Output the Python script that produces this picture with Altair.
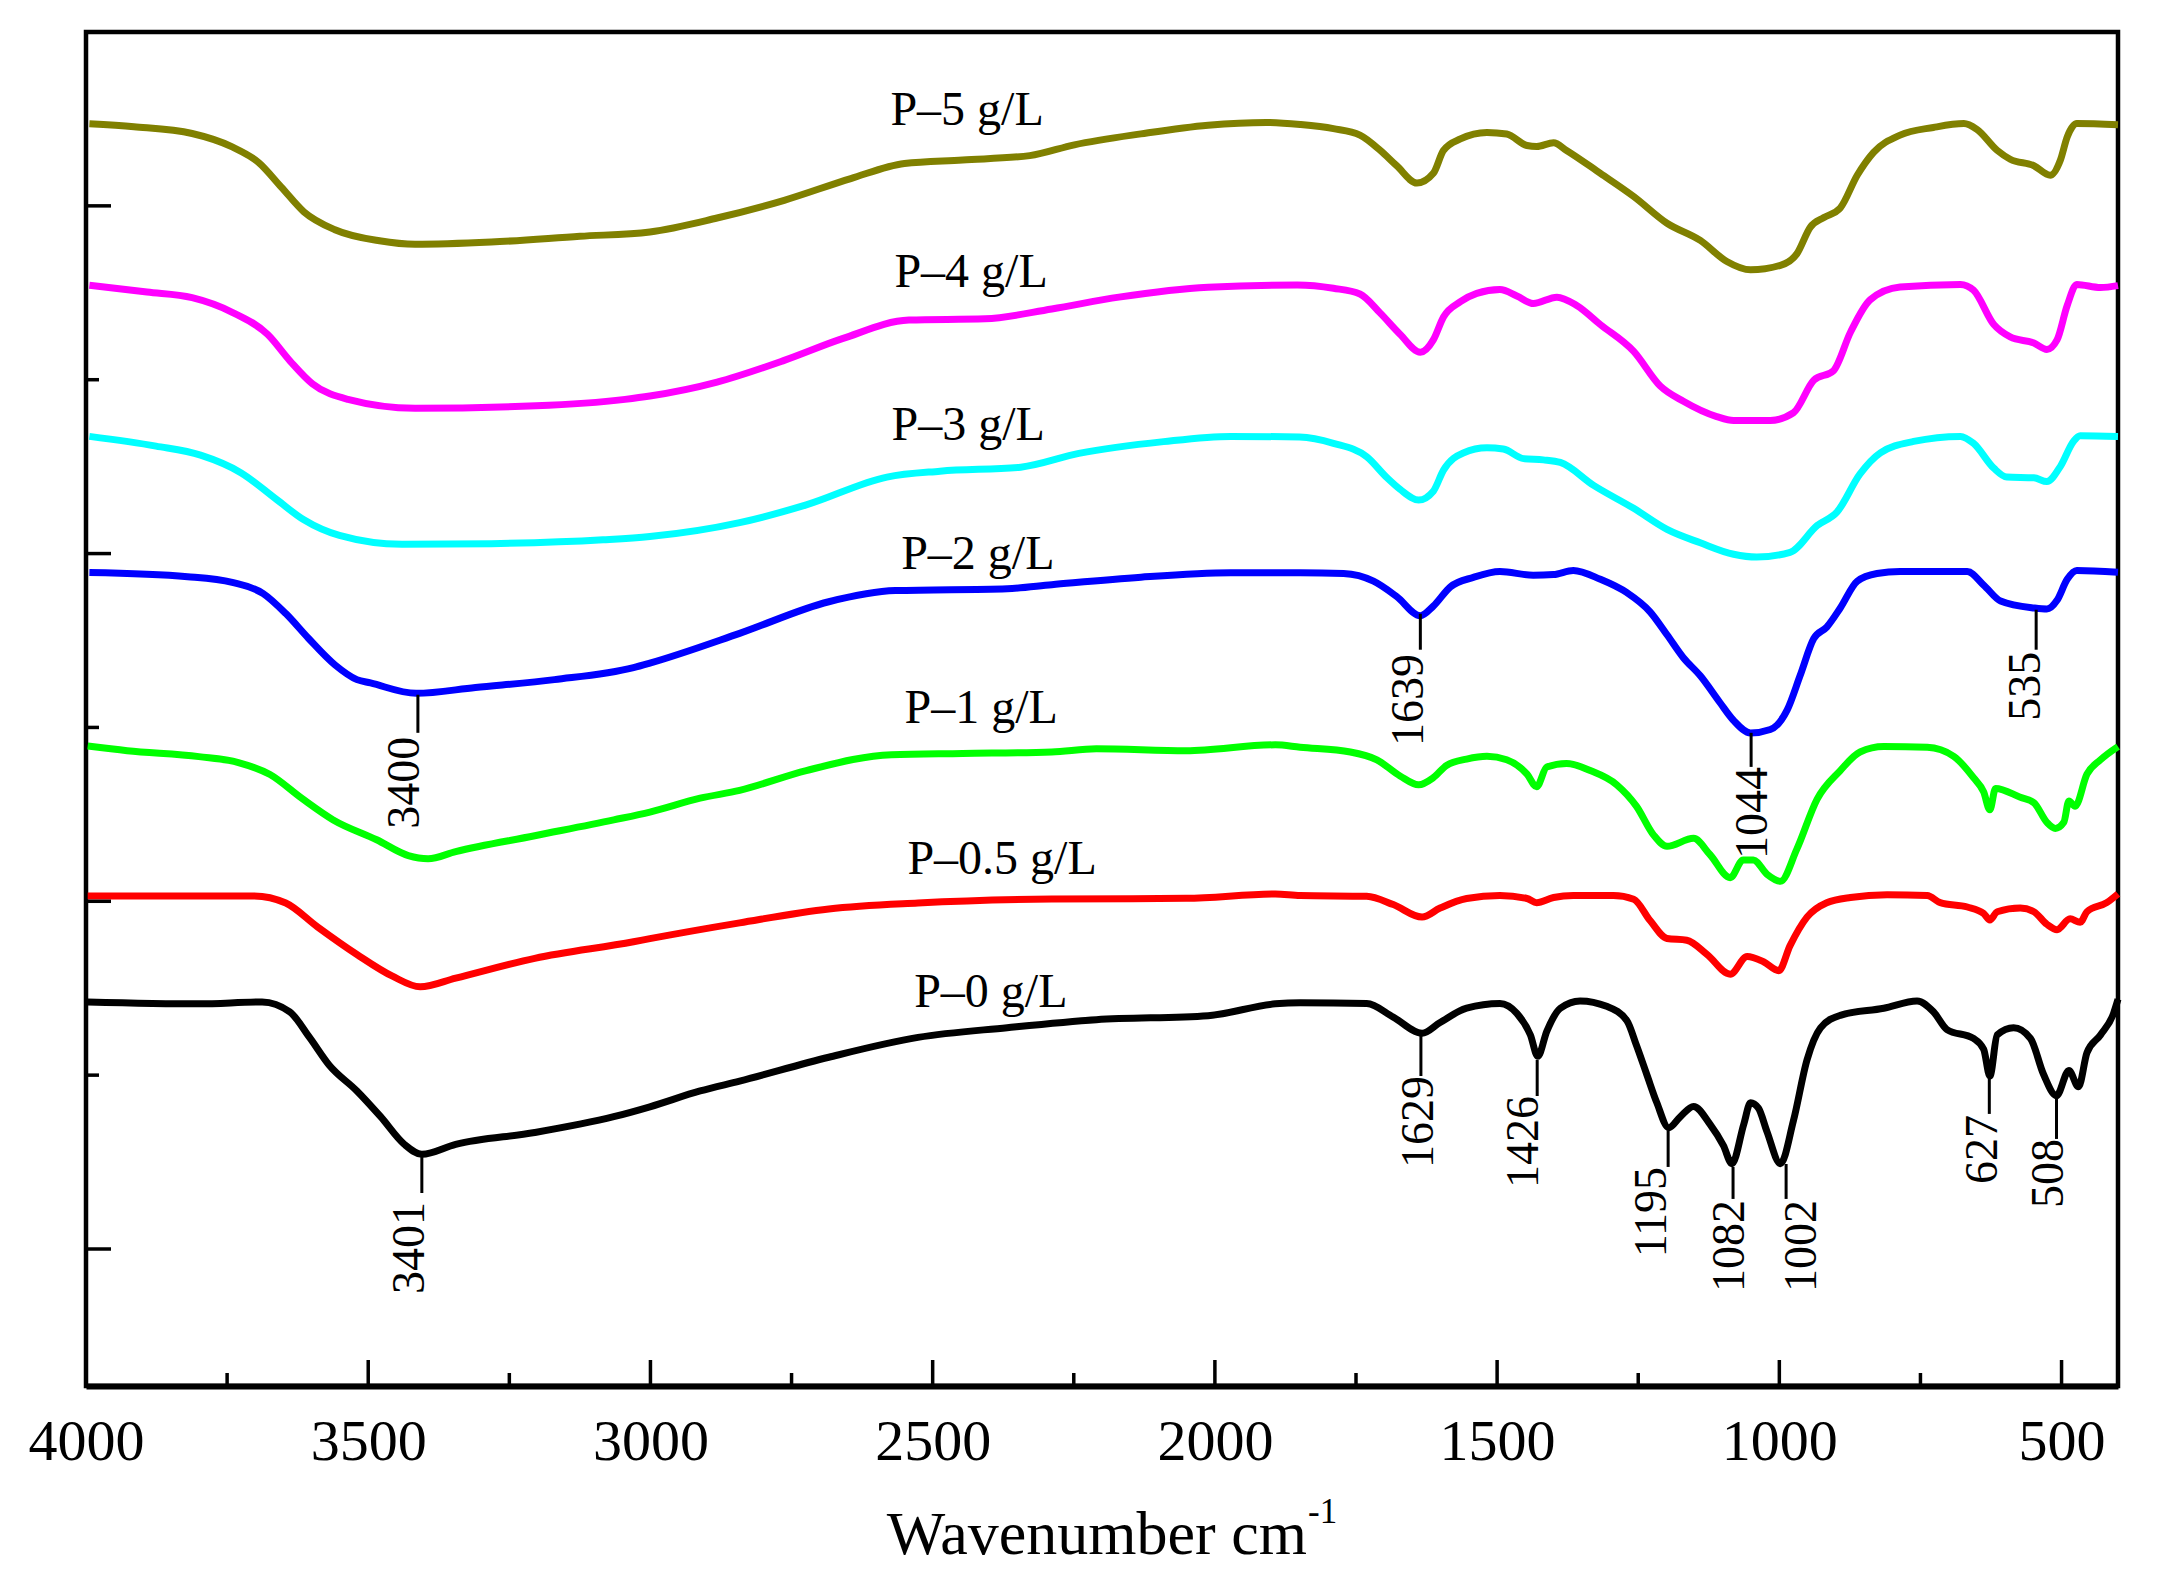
import altair as alt
import pandas as pd

# ---------------- data ----------------
series_names = ["P–5 g/L", "P–4 g/L", "P–3 g/L", "P–2 g/L", "P–1 g/L", "P–0.5 g/L", "P–0 g/L"]
series_colors = ["#808000", "#ff00ff", "#00ffff", "#0000ff", "#00ff00", "#ff0000", "#000000"]

wn_p5 = [3994, 3915, 3812, 3741, 3694, 3654, 3614, 3559, 3480, 3417, 3282, 3125, 3001, 2882, 2763, 2645,
         2550, 2447, 2328, 2249, 2131, 2012, 1909, 1849, 1790, 1743, 1707, 1678, 1642, 1613, 1595, 1565,
         1518, 1483, 1447, 1430, 1400, 1377, 1317, 1258, 1199, 1140, 1093, 1051, 998, 969, 945, 921, 892,
         862, 833, 786, 727, 673, 650, 614, 591, 549, 520, 502, 490, 473, 400]
t_p5 = [6.472, 6.455, 6.416, 6.339, 6.249, 6.108, 5.966, 5.863, 5.799, 5.779, 5.792, 5.825, 5.850, 5.930,
        6.032, 6.157, 6.244, 6.264, 6.289, 6.351, 6.414, 6.464, 6.480, 6.468, 6.444, 6.407, 6.319, 6.231,
        6.131, 6.187, 6.319, 6.385, 6.422, 6.413, 6.347, 6.341, 6.363, 6.319, 6.187, 6.054, 5.900, 5.801,
        5.680, 5.632, 5.658, 5.724, 5.878, 5.933, 5.988, 6.176, 6.308, 6.407, 6.451, 6.473, 6.440, 6.319,
        6.268, 6.231, 6.176, 6.264, 6.396, 6.473, 6.466]

wn_p4 = [3994, 3892, 3812, 3741, 3678, 3638, 3599, 3536, 3417, 3203, 3045, 3001, 2882, 2763, 2660, 2542,
         2407, 2289, 2170, 2012, 1854, 1790, 1743, 1707, 1672, 1636, 1613, 1595, 1565, 1536, 1495, 1465,
         1436, 1394, 1359, 1317, 1258, 1211, 1170, 1111, 1081, 1016, 975, 939, 904, 874, 839, 786, 679,
         656, 620, 591, 549, 526, 508, 490, 473, 431, 400]
t_p4 = [5.543, 5.504, 5.472, 5.388, 5.260, 5.106, 4.977, 4.887, 4.836, 4.850, 4.887, 4.906, 4.986, 5.111,
        5.236, 5.343, 5.350, 5.407, 5.475, 5.532, 5.545, 5.526, 5.493, 5.383, 5.262, 5.158, 5.229, 5.361,
        5.449, 5.497, 5.519, 5.482, 5.438, 5.475, 5.427, 5.317, 5.163, 4.964, 4.876, 4.788, 4.766, 4.766,
        4.810, 4.997, 5.052, 5.273, 5.460, 5.533, 5.548, 5.515, 5.317, 5.246, 5.211, 5.174, 5.229, 5.427,
        5.548, 5.530, 5.541]

wn_p3 = [3994, 3876, 3797, 3725, 3662, 3614, 3551, 3440, 3282, 3084, 3001, 2842, 2724, 2581, 2487, 2344,
         2241, 2091, 1972, 1850, 1790, 1731, 1695, 1672, 1639, 1613, 1595, 1560, 1518, 1489, 1453, 1418,
         1388, 1329, 1258, 1199, 1140, 1081, 1040, 981, 933, 898, 857, 821, 762, 679, 656, 620, 597, 549,
         526, 502, 479, 467, 400]
t_p3 = [4.674, 4.618, 4.566, 4.464, 4.310, 4.194, 4.104, 4.053, 4.057, 4.079, 4.098, 4.178, 4.280, 4.440,
        4.474, 4.497, 4.576, 4.644, 4.674, 4.670, 4.634, 4.557, 4.436, 4.370, 4.308, 4.359, 4.480, 4.579,
        4.608, 4.601, 4.546, 4.539, 4.524, 4.392, 4.260, 4.139, 4.062, 3.996, 3.980, 4.007, 4.161, 4.238,
        4.458, 4.579, 4.645, 4.674, 4.634, 4.491, 4.440, 4.436, 4.414, 4.502, 4.645, 4.678, 4.674]

wn_p2 = [3994, 3820, 3741, 3686, 3646, 3606, 3559, 3520, 3496, 3415, 3310, 3170, 3030, 3001, 2842, 2684,
         2566, 2368, 2289, 2131, 1972, 1849, 1772, 1719, 1678, 1636, 1613, 1583, 1542, 1495, 1436, 1400,
         1365, 1317, 1270, 1229, 1199, 1170, 1140, 1105, 1081, 1051, 1016, 986, 963, 939, 916, 892, 862,
         827, 786, 667, 638, 608, 549, 526, 508, 490, 473, 400]
t_p2 = [3.891, 3.867, 3.834, 3.770, 3.655, 3.513, 3.360, 3.275, 3.256, 3.196, 3.230, 3.275, 3.344, 3.370,
        3.541, 3.723, 3.787, 3.798, 3.821, 3.864, 3.889, 3.890, 3.885, 3.841, 3.753, 3.643, 3.698, 3.808,
        3.863, 3.897, 3.875, 3.879, 3.903, 3.852, 3.775, 3.665, 3.533, 3.401, 3.297, 3.142, 3.040, 2.968,
        2.988, 3.101, 3.300, 3.511, 3.577, 3.687, 3.841, 3.885, 3.897, 3.897, 3.819, 3.727, 3.687, 3.681,
        3.731, 3.852, 3.903, 3.892]

wn_p1 = [3997, 3927, 3800, 3730, 3674, 3618, 3562, 3485, 3429, 3394, 3345, 3205, 3065, 3001, 2912, 2842,
         2724, 2573, 2447, 2289, 2210, 2051, 1893, 1849, 1760, 1713, 1672, 1639, 1613, 1589, 1554, 1518,
         1483, 1447, 1430, 1412, 1377, 1335, 1288, 1253, 1223, 1199, 1152, 1123, 1087, 1064, 1046, 1022,
         998, 969, 933, 892, 857, 815, 738, 691, 656, 638, 627, 617, 573, 549, 526, 511, 496, 487, 476,
         455, 431, 400]
t_p1 = [2.893, 2.866, 2.832, 2.798, 2.729, 2.593, 2.468, 2.354, 2.263, 2.245, 2.286, 2.377, 2.468, 2.513,
        2.593, 2.638, 2.752, 2.843, 2.850, 2.859, 2.877, 2.866, 2.900, 2.886, 2.859, 2.814, 2.721, 2.670,
        2.711, 2.783, 2.818, 2.834, 2.814, 2.731, 2.659, 2.772, 2.793, 2.752, 2.670, 2.546, 2.382, 2.316,
        2.362, 2.269, 2.136, 2.238, 2.238, 2.156, 2.115, 2.300, 2.588, 2.752, 2.859, 2.890, 2.886, 2.834,
        2.711, 2.629, 2.526, 2.649, 2.598, 2.567, 2.454, 2.419, 2.454, 2.577, 2.547, 2.731, 2.814, 2.890]

wn_p05 = [3997, 3702, 3646, 3590, 3520, 3457, 3408, 3345, 3205, 3030, 3001, 2842, 2684, 2526, 2289, 2051,
          1893, 1849, 1731, 1684, 1633, 1601, 1554, 1495, 1447, 1430, 1400, 1365, 1294, 1258, 1229, 1199,
          1164, 1128, 1087, 1057, 1028, 1001, 981, 951, 916, 874, 809, 738, 715, 667, 638, 627, 614, 573,
          549, 526, 508, 485, 467, 455, 420, 400]
t_p05 = [2.031, 2.031, 1.990, 1.853, 1.694, 1.569, 1.508, 1.558, 1.672, 1.767, 1.785, 1.876, 1.956, 1.990,
         2.013, 2.017, 2.042, 2.033, 2.029, 1.981, 1.909, 1.961, 2.016, 2.033, 2.016, 1.992, 2.022, 2.033,
         2.033, 2.012, 1.889, 1.786, 1.776, 1.694, 1.581, 1.683, 1.652, 1.601, 1.745, 1.909, 1.992, 2.022,
         2.037, 2.033, 1.992, 1.967, 1.930, 1.893, 1.940, 1.961, 1.940, 1.868, 1.837, 1.899, 1.879, 1.940,
         1.992, 2.043]

wn_p0 = [3997, 3800, 3688, 3639, 3604, 3569, 3520, 3478, 3436, 3405, 3345, 3205, 3065, 3001, 2912, 2842,
         2684, 2526, 2368, 2210, 2012, 1893, 1849, 1731, 1684, 1633, 1601, 1554, 1495, 1465, 1441, 1428,
         1412, 1388, 1353, 1306, 1270, 1253, 1235, 1217, 1196, 1176, 1152, 1123, 1099, 1084, 1063, 1051,
         1037, 1022, 998, 975, 951, 927, 892, 815, 756, 727, 703, 656, 638, 627, 614, 585, 555, 532, 509,
         487, 470, 455, 431, 408, 400]
t_p0 = [1.421, 1.410, 1.421, 1.364, 1.217, 1.057, 0.909, 0.761, 0.602, 0.545, 0.602, 0.670, 0.761, 0.818,
        0.909, 0.966, 1.103, 1.217, 1.273, 1.319, 1.342, 1.410, 1.416, 1.412, 1.334, 1.241, 1.303, 1.385,
        1.412, 1.355, 1.231, 1.108, 1.252, 1.385, 1.427, 1.396, 1.313, 1.170, 1.005, 0.841, 0.697, 0.759,
        0.820, 0.718, 0.594, 0.491, 0.718, 0.841, 0.810, 0.676, 0.491, 0.738, 1.087, 1.272, 1.344, 1.385,
        1.427, 1.365, 1.262, 1.211, 1.149, 0.995, 1.231, 1.272, 1.211, 1.005, 0.882, 1.026, 0.933, 1.129,
        1.231, 1.354, 1.436]

# series label positions (wavenumber, offset value)
label_wn = [2439, 2432, 2437, 2420, 2414, 2377, 2397]
label_t = [6.464, 5.535, 4.655, 3.910, 3.026, 2.158, 1.392]

# peak annotations
peak_text = ["3400", "1639", "1044", "535", "3401", "1629", "1426", "1195", "1082", "1002", "627", "508"]
peak_wn = [3412, 1636, 1050, 545, 3405, 1635, 1429, 1197, 1082, 988, 628, 509]
peak_t1 = [3.188, 3.654, 2.969, 3.677, 0.529, 1.243, 1.087, 0.679, 0.472, 0.489, 0.995, 0.875]
peak_t2 = [2.969, 3.447, 2.773, 3.447, 0.322, 0.995, 0.880, 0.472, 0.288, 0.288, 0.777, 0.633]
peak_label_wn = [3434, 1656, 1046, 563, 3426, 1638, 1453, 1225, 1087, 960, 640, 523]
peak_label_t = [2.946, 3.423, 2.773, 3.435, 0.270, 0.995, 0.880, 0.472, 0.282, 0.282, 0.771, 0.633]

# axis ticks
x_label_values = [4000, 3500, 3000, 2500, 2000, 1500, 1000, 500]
x_major_ticks = [3500, 3000, 2500, 2000, 1500, 1000, 500]
x_minor_ticks = [3750, 3250, 2750, 2250, 1750, 1250, 750]
y_major_ticks = [0, 2, 4, 6]
y_minor_ticks = [1, 3, 5]

# ---------------- build tables ----------------
all_wn = [wn_p5, wn_p4, wn_p3, wn_p2, wn_p1, wn_p05, wn_p0]
all_t = [t_p5, t_p4, t_p3, t_p2, t_p1, t_p05, t_p0]
rows = []
for name, ws, ts in zip(series_names, all_wn, all_t):
    for w, t in zip(ws, ts):
        rows.append({"wn": w, "t": t, "series": name})
spectra = pd.DataFrame(rows)

labels = pd.DataFrame({"wn": label_wn, "t": label_t, "label": series_names})
peaks = pd.DataFrame({"wn": peak_wn, "t1": peak_t1, "t2": peak_t2,
                      "lwn": peak_label_wn, "lt": peak_label_t, "txt": peak_text})

W, H = 2032, 1354
FONT = "Liberation Serif"

xscale = alt.Scale(domain=[4000, 400], nice=False, zero=False)
yscale = alt.Scale(domain=[-0.788, 7.0], nice=False, zero=False)

xaxis = alt.Axis(values=x_label_values, format="d", ticks=False, grid=False, domain=True,
                 domainColor="black", domainWidth=6, labelFont=FONT, labelFontSize=58,
                 labelColor="black", labelPadding=27, labelFlush=False, labelOverlap=False, title=None)

lines = alt.Chart(spectra).mark_line(strokeWidth=7, interpolate="monotone").encode(
    x=alt.X("wn:Q", scale=xscale, axis=xaxis),
    y=alt.Y("t:Q", scale=yscale, axis=None),
    color=alt.Color("series:N", scale=alt.Scale(domain=series_names, range=series_colors), legend=None),
    detail="series:N",
)

xmaj = alt.Chart(pd.DataFrame({"wn": x_major_ticks})).mark_rule(color="black", strokeWidth=3.5).encode(
    x=alt.X("wn:Q", scale=xscale), y=alt.value(H), y2=alt.value(H - 26))
xmin = alt.Chart(pd.DataFrame({"wn": x_minor_ticks})).mark_rule(color="black", strokeWidth=3.5).encode(
    x=alt.X("wn:Q", scale=xscale), y=alt.value(H), y2=alt.value(H - 13))
ymaj = alt.Chart(pd.DataFrame({"t": y_major_ticks})).mark_rule(color="black", strokeWidth=3.5).encode(
    y=alt.Y("t:Q", scale=yscale), x=alt.value(0), x2=alt.value(25))
ymin = alt.Chart(pd.DataFrame({"t": y_minor_ticks})).mark_rule(color="black", strokeWidth=3.5).encode(
    y=alt.Y("t:Q", scale=yscale), x=alt.value(0), x2=alt.value(13))

series_text = alt.Chart(labels).mark_text(font=FONT, fontSize=48, align="center", baseline="alphabetic",
                                          color="black").encode(
    x=alt.X("wn:Q", scale=xscale), y=alt.Y("t:Q", scale=yscale), text="label:N")

peak_lines = alt.Chart(peaks).mark_rule(color="black", strokeWidth=3).encode(
    x=alt.X("wn:Q", scale=xscale), y=alt.Y("t1:Q", scale=yscale), y2="t2:Q")

peak_text_mark = alt.Chart(peaks).mark_text(font=FONT, fontSize=46, angle=270, align="right",
                                            baseline="middle", color="black").encode(
    x=alt.X("lwn:Q", scale=xscale), y=alt.Y("lt:Q", scale=yscale), text="txt:N")

title_main = alt.Chart(pd.DataFrame({"s": ["Wavenumber cm"]})).mark_text(
    font=FONT, fontSize=62, align="right", baseline="alphabetic", color="black").encode(
    x=alt.value(1221), y=alt.value(1522), text="s:N")
title_sup = alt.Chart(pd.DataFrame({"s": ["-1"]})).mark_text(
    font=FONT, fontSize=35, align="left", baseline="alphabetic", color="black").encode(
    x=alt.value(1222), y=alt.value(1491), text="s:N")

chart = alt.layer(lines, xmaj, xmin, ymaj, ymin, series_text, peak_lines, peak_text_mark,
                  title_main, title_sup).properties(
    width=W, height=H,
    autosize=alt.AutoSizeParams(type="none"),
    padding={"left": 78, "top": 24, "right": 30, "bottom": 180},
    background="white",
).configure_view(stroke="black", strokeWidth=4.5)

chart.save("out.html", embed_options={"renderer": "svg", "actions": False})
